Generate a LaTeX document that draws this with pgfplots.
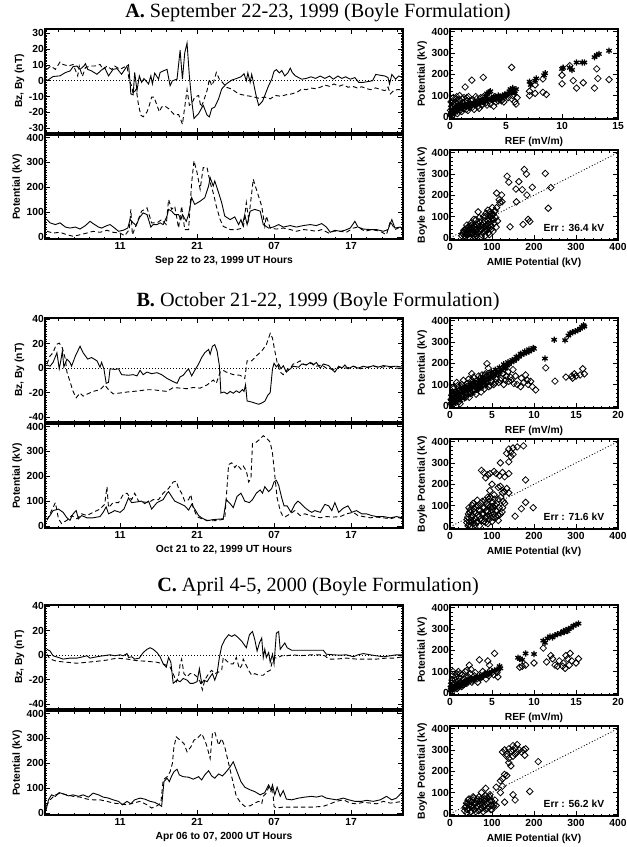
\documentclass[border=0pt]{standalone}
\usepackage{pgfplots}
\pgfplotsset{compat=1.18}
\usepackage{fontspec}
\setmainfont{Liberation Serif}
\newfontfamily\arialfam{Liberation Sans}
\newcommand{\axfont}{\arialfam\bfseries\fontsize{10.3}{11}\selectfont}
\newcommand{\titfont}{\fontsize{20.2}{22}\selectfont}

\pgfplotsset{
  base/.style={scale only axis, anchor=north west,
    axis line style={line width=1.1pt},
    every tick/.style={black, line width=0.6pt},
    tick align=inside, xtick pos=both, ytick pos=both,
    major tick length=5pt, minor tick length=2.5pt,
    tick label style={font=\axfont},
    yticklabel style={inner sep=1pt},
    label style={font=\axfont},
    /pgf/number format/assume math mode=true,
    scaled ticks=false},
  lft/.style={base, width=358pt, height=104pt, xmin=1.25, xmax=47.75,
    xtick={11,21,31,41}, xticklabels={11,21,07,17}, minor xtick={1,3,...,47}},
  bz/.style={lft, ymin=-44, ymax=41, ytick={-40,-20,0,20,40}, minor ytick={-44,-42,...,40},
    xticklabels={}, ylabel={Bz, By (nT)}},
  pot/.style={lft, ymin=-8, ymax=410, ytick={0,100,...,400}, minor ytick={0,10,...,400},
    ylabel={Potential (kV)}},
  ref/.style={base, width=168pt, height=90pt, xmin=0, ymin=-10, ymax=412,
    ytick={0,100,...,400}, minor ytick={0,20,...,400}, minor xtick={0,1,...,20},
    xlabel={REF (mV/m)}, ylabel={Potential (kV)}},
  cmp/.style={base, width=168pt, height=90pt, xmin=0, xmax=400, ymin=-10, ymax=412,
    xtick={0,100,...,400}, ytick={0,100,...,400}, minor xtick={0,20,...,400}, minor ytick={0,20,...,400},
    xlabel={AMIE Potential (kV)}, ylabel={Boyle Potential (kV)}},
  sol/.style={black, line width=0.9pt, mark=none},
  das/.style={black, line width=0.9pt, mark=none, dash pattern=on 4.5pt off 3pt},
  zero/.style={black, line width=0.8pt, mark=none, dash pattern=on 1pt off 2pt},
  dia/.style={only marks, mark=square, mark size=2.3pt, mark options={rotate=45, line width=0.8pt, draw=black, solid}},
  ast/.style={only marks, mark=asterisk, mark size=3.1pt, mark options={line width=1.3pt, draw=black, solid}},
}

\begin{document}
\begin{tikzpicture}
\path[use as bounding box] (0pt,0pt) rectangle (627pt,-847pt);

% ================= A =================
\node[font=\titfont] at (318pt,-13pt) {\textbf{A.} September 22-23, 1999 (Boyle Formulation)};

\begin{axis}[bz, at={(45pt,-29pt)}, ymin=-33, ymax=32.7, ytick={-30,-20,...,30}, minor ytick={-33,-32,...,32}]
\addplot[zero] coordinates {(0,0)(50,0)};
\addplot[sol] coordinates {(1.5,0)(2.3,2.7)(3.2,3.1)(3.9,5.2)(4.5,6.2)(4.9,8.9)(5.4,9.3)(5.8,7.2)(6.3,9.3)(6.5,10.8)(6.8,7.2)(7.3,6.2)(8.0,4.1)(8.6,6.8)(9.0,8.3)(9.5,3.1)(10.1,7.2)(10.6,7.7)(11.2,4.1)(11.9,9.3)(12.1,10.1)(12.3,-1)(12.4,-8.3)(12.7,-8.9)(12.9,5.2)(13.2,-6.2)(13.5,3.1)(13.8,-1)(14.1,1.4)(14.7,-2)(15.0,3.1)(15.2,-2)(15.5,4.8)(16.0,1)(16.2,5.2)(16.6,6.2)(17.1,7.2)(17.5,-3.1)(17.8,0)(18.4,1)(18.8,19.3)(19.1,1)(19.4,17.6)(19.7,23.8)(20.0,3.1)(20.3,-12.4)(20.6,-23.8)(21.2,-20.7)(21.8,-15.5)(22.3,-21.7)(22.6,-22.8)(22.9,-17.6)(23.3,-16.6)(23.8,-11.4)(24.2,-5.2)(24.8,-2)(25.5,0.4)(26.1,1.4)(26.7,2.5)(27.1,4.5)(27.4,0)(27.6,5)(27.9,-1)(28.1,4)(28.4,-3)(28.7,-10)(29.0,-15.5)(29.5,-13)(29.9,-8)(30.3,-3)(30.7,1)(31.0,6)(31.3,7)(31.7,5)(32.0,6.5)(32.4,3)(32.8,5)(33.1,8)(33.4,5)(33.8,3)(34.2,2)(34.6,1)(35.2,1.5)(35.8,2.5)(36.4,1.5)(37.0,3)(37.6,1.5)(38.2,3)(38.7,1)(39.3,3)(39.8,1.5)(40.3,2.5)(40.9,1)(41.5,2)(42.0,-1)(42.6,-1)(43.2,-0.5)(43.8,0)(44.2,4)(44.8,3.5)(45.4,3)(45.8,2)(46.0,-2)(46.3,4)(46.8,1)(47.2,3)(47.7,2)};
\addplot[das] coordinates {(1.5,7.2)(2.0,9.3)(2.6,7.2)(3.2,11.8)(3.6,10.3)(4.3,9.3)(4.9,10.3)(5.5,3.1)(5.7,9.3)(6.1,2.7)(6.5,8.3)(7.1,9.3)(7.7,9.3)(8.4,10.3)(8.8,7.2)(9.3,9.3)(9.9,7.2)(10.3,9.3)(11.0,7.2)(11.4,8.3)(11.9,9.3)(12.2,0)(12.5,-3.1)(12.7,-8.3)(13.1,-5.2)(13.4,-15.5)(13.7,-21.7)(14.0,-22.8)(14.5,-19.7)(14.8,-15.5)(15.1,-10.3)(15.4,-10.3)(15.8,-15.5)(16.1,-19.7)(16.4,-16.6)(16.8,-15.9)(17.3,-17.6)(17.7,-19.7)(18.1,-21.7)(18.6,-21.3)(18.9,-24.8)(19.1,-27.5)(19.4,-16.6)(19.7,-5.6)(20.0,-15.5)(20.3,-14.5)(20.7,-10.3)(21.2,-9.3)(21.5,-16.6)(21.8,-13.5)(22.3,-6.2)(22.6,1)(22.9,-3.1)(23.2,0)(23.5,5.2)(23.9,1)(24.3,-1)(24.8,-4.1)(25.5,-5.2)(26.4,-8.3)(27.3,-9.3)(28.2,-10)(29.0,-11)(29.8,-10.3)(30.5,-11.4)(31.2,-9.3)(31.9,-9.8)(32.6,-8.8)(33.3,-8.3)(34.0,-7.2)(34.6,-5.2)(35.2,-5.6)(35.8,-4.6)(36.4,-5)(37.0,-4.1)(37.6,-2.7)(38.2,-3.5)(38.8,-2)(39.4,-3.5)(40.0,-2.5)(40.6,-4.1)(41.2,-3.5)(41.8,-4.5)(42.4,-3.8)(43.0,-5)(43.6,-5.6)(44.2,-4.5)(44.8,-5.5)(45.4,-6.2)(45.8,-4)(46.1,-8.3)(46.6,-6)(47.2,-5.5)(47.7,-6.2)};
\end{axis}

\begin{axis}[pot, at={(45pt,-135pt)}, xlabel={Sep 22 to 23, 1999 UT Hours}]
\addplot[sol] coordinates {(1.5,70)(1.9,57)(2.6,50)(3.2,57)(3.9,40)(4.5,36)(5.2,40)(5.8,32)(6.5,46)(7.1,63)(7.5,54)(8.2,40)(8.6,36)(9.3,46)(9.7,50)(10.3,36)(10.8,23)(11.4,27)(12.0,36)(12.3,70)(12.7,57)(13.1,46)(13.5,77)(14.0,97)(14.5,90)(15.0,40)(15.3,50)(15.8,50)(16.2,57)(16.6,50)(17.1,84)(17.3,111)(17.7,104)(18.1,90)(18.6,90)(18.9,70)(19.1,90)(19.6,63)(19.9,90)(20.3,158)(20.7,131)(21.4,144)(22.0,158)(22.5,205)(22.7,239)(23.1,205)(23.3,225)(23.8,178)(24.2,138)(24.6,84)(25.3,70)(25.9,81)(26.4,50)(26.7,70)(26.9,50)(27.2,90)(27.5,50)(27.9,104)(28.5,111)(29.2,104)(29.6,50)(30.3,36)(30.9,40)(31.6,50)(32.2,40)(33.1,46)(33.9,40)(34.8,46)(35.7,50)(36.5,46)(37.2,54)(37.8,40)(38.3,19)(38.9,27)(39.6,23)(40.2,27)(40.9,36)(41.5,63)(41.9,40)(42.6,32)(43.5,30)(44.3,30)(45.2,23)(45.8,30)(46.3,70)(46.7,36)(47.4,40)(47.7,30)};
\addplot[das] coordinates {(1.5,23)(2.3,16)(3.2,19)(4.1,9)(4.9,3)(5.8,9)(6.7,16)(7.5,23)(8.4,19)(9.3,27)(10.1,19)(11.0,16)(11.6,5)(12.2,30)(12.4,111)(12.6,9)(13.2,57)(13.8,104)(14.5,117)(15.1,57)(15.8,57)(16.4,70)(17.0,50)(17.3,151)(17.7,111)(18.1,124)(18.6,36)(19.0,124)(19.4,30)(19.9,30)(20.3,219)(20.6,306)(21.0,259)(21.4,192)(21.8,279)(22.3,279)(22.7,219)(23.1,178)(23.5,124)(24.0,70)(24.4,43)(25.3,30)(26.1,30)(27.0,36)(27.4,138)(27.7,70)(28.0,151)(28.3,232)(28.7,192)(29.4,124)(29.8,43)(30.0,84)(30.5,36)(31.3,32)(32.2,36)(33.1,30)(33.9,23)(34.8,30)(35.7,27)(36.5,23)(37.2,30)(38.1,16)(38.7,23)(39.6,23)(40.4,19)(41.3,36)(41.9,40)(42.8,23)(43.7,30)(44.8,23)(45.6,9)(46.1,63)(46.7,30)(47.6,43)};
\end{axis}

\begin{axis}[ref, at={(450pt,-29pt)}, xmax=15, xtick={0,5,10,15}]
\addplot[ast] coordinates {(0.1,15)(0.2,25)(0.3,20)(0.4,35)(0.5,30)(0.6,40)(0.7,25)(0.8,45)(0.9,35)(1.0,40)(1.1,50)(1.2,45)(1.4,55)(1.5,45)(1.6,50)(1.8,55)(2.0,60)(2.2,55)(2.4,65)(2.6,70)(2.8,75)(3.0,70)(3.2,95)(3.3,110)(3.5,115)(3.6,120)(3.8,80)(4.0,90)(4.2,85)(4.4,95)(4.6,90)(4.8,95)(5.0,100)(5.2,110)(5.3,120)(5.4,130)(5.5,115)(5.6,135)(5.7,125)(5.8,110)(5.9,130)(7.1,165)(7.2,150)(7.6,170)(7.7,180)(8.4,195)(8.5,205)(10.0,225)(10.1,230)(10.7,230)(10.9,220)(11.3,255)(11.8,255)(12.0,255)(12.9,280)(13.1,290)(13.3,295)(14.2,310)(0.05,10)(0.15,20)(0.25,30)(0.35,25)(0.45,40)(0.55,35)(0.65,45)(0.75,40)(0.85,50)(0.95,45)(1.3,50)(1.7,60)(1.9,55)(2.1,65)(2.3,60)(2.5,70)(2.7,65)(2.9,80)(3.1,75)(3.4,85)(3.7,80)(3.9,95)(4.1,85)(4.3,100)(4.5,90)(4.7,100)(4.9,105)};
\addplot[dia] coordinates {(0.1,10)(0.2,40)(0.3,60)(0.3,90)(0.4,20)(0.5,70)(0.6,95)(0.7,50)(0.8,80)(0.9,30)(1.0,60)(1.1,85)(1.2,40)(1.3,70)(1.5,90)(1.6,30)(1.7,60)(1.9,75)(2.0,45)(2.2,65)(2.4,85)(2.5,50)(2.7,70)(2.9,60)(3.1,80)(3.3,55)(3.5,75)(4.0,95)(4.3,75)(4.6,80)(5.0,100)(5.5,85)(6.0,90)(5.8,70)(1.35,140)(1.95,172)(2.97,185)(5.5,232)(3.9,50)(4.6,75)(5.9,60)(7.1,100)(7.1,120)(7.6,110)(7.6,150)(8.3,115)(8.6,105)(8.3,178)(10.0,155)(10.0,195)(10.7,240)(11.0,170)(11.3,135)(11.9,160)(12.9,135)(13.1,225)(13.2,180)(14.2,175)(0.15,50)(0.25,75)(0.35,30)(0.45,55)(0.55,85)(0.65,15)(0.75,65)(0.85,100)(0.95,50)(1.05,25)(1.15,65)(1.25,90)(1.35,55)(1.45,35)(1.55,75)(1.65,95)(1.75,45)(1.85,60)(2.05,80)(2.15,35)(2.3,95)(2.45,70)(2.6,40)(2.75,90)(2.85,55)(3.0,95)(3.2,65)(3.4,90)(3.6,60)(3.8,85)(4.1,70)(4.4,90)(4.8,70)(5.2,90)(5.6,100)(0.05,30)(0.1,70)(0.2,5)};
\end{axis}

\begin{axis}[cmp, at={(450pt,-150pt)}]
\addplot[zero] coordinates {(0,0)(400,400)};
\addplot[dia] coordinates {(30,20)(33,35)(35,10)(38,25)(40,45)(42,15)(45,30)(47,55)(50,20)(52,40)(55,10)(57,60)(58,30)(60,50)(62,20)(65,40)(68,65)(70,30)(72,55)(75,15)(78,45)(80,70)(82,30)(85,55)(88,40)(90,80)(92,25)(95,60)(98,40)(100,90)(102,30)(105,70)(45,5)(60,5)(40,60)(50,70)(62,85)(70,95)(85,100)(95,110)(110,50)(136,289)(140,261)(164,264)(177,321)(182,299)(227,302)(157,229)(172,226)(196,237)(240,236)(183,201)(158,169)(111,210)(123,201)(117,179)(124,169)(234,139)(143,52)(174,63)(186,87)(190,77)(113,79)(107,126)(103,111)(95,122)(86,115)(67,122)(57,87)(111,142)(101,142)(119,166)(80,100)(90,130)(97,100)(28,10)(32,25)(36,40)(39,15)(41,30)(43,50)(46,20)(48,40)(51,60)(53,25)(56,45)(59,15)(61,35)(63,60)(66,25)(69,50)(71,75)(74,40)(76,60)(79,25)(81,50)(83,80)(86,35)(89,65)(91,50)(93,90)(96,75)(99,55)(101,110)(104,85)(106,125)(109,95)(44,40)(54,35)(64,10)(74,5)(84,10)(94,15)(37,5)};
\node[font=\axfont] at (axis cs:295,45) {Err : 36.4 kV};
\end{axis}

% ================= B =================
\node[font=\titfont] at (318pt,-302pt) {\textbf{B.} October 21-22, 1999 (Boyle Formulation)};

\begin{axis}[bz, at={(45pt,-318pt)}]
\addplot[zero] coordinates {(0,0)(50,0)};
\addplot[sol] coordinates {(1.5,2.6)(1.9,1.6)(2.3,4.7)(2.8,12.6)(3.1,-0.5)(3.3,6)(3.5,14)(3.7,1)(4.1,7.4)(4.5,4.7)(4.7,1.6)(5.2,10)(5.8,17.9)(6.2,12.6)(6.8,7.4)(7.3,8.7)(8.0,6)(8.4,0.8)(8.6,4.7)(8.9,-0.5)(9.2,-12.4)(9.5,-11.6)(9.7,-0.5)(10.3,-1)(10.8,-0.5)(11.2,-5.3)(12.1,-5.8)(12.7,-5.3)(13.2,-6.3)(13.6,-1.8)(14.0,-5.3)(14.5,-3.2)(15.1,-4.5)(15.8,-3.7)(16.4,-5.3)(17.1,-8.4)(17.9,-11)(18.4,-12.4)(18.8,-7.1)(19.2,-5.8)(19.6,-2.6)(19.9,-0.5)(20.3,-6.3)(20.7,-1.8)(21.2,3.4)(21.6,8.7)(22.0,12.6)(22.5,15.3)(22.7,11.3)(23.0,17.9)(23.3,19.2)(23.6,14)(23.9,2.1)(24.1,-20.3)(24.5,-19.5)(24.9,-21)(25.3,-19)(25.7,-20.5)(26.1,-18.5)(26.5,-20)(26.9,-17.5)(27.1,-19)(27.3,-13.5)(27.5,-26.8)(28.0,-27.5)(28.5,-28.5)(29.0,-29.5)(29.4,-28.5)(29.8,-27)(30.2,-22)(30.5,-20)(30.8,-0.5)(31.0,4)(31.3,1)(31.6,3.4)(31.9,-0.5)(32.2,2)(32.6,-3.2)(33.1,-0.5)(33.5,1.6)(34.2,0.8)(34.6,3.4)(35.2,2.6)(35.7,4.7)(36.1,2.6)(36.5,4.7)(37.0,0)(37.4,3.4)(38.1,2.1)(38.5,-1)(38.9,-3.2)(39.4,1.6)(39.8,0)(40.2,2.6)(40.6,-0.5)(41.3,1.6)(41.9,0)(42.6,1.6)(43.2,0.5)(43.9,2.1)(44.5,0.8)(45.2,2.1)(46.1,1.3)(46.9,1.6)(47.7,0.8)};
\addplot[das] coordinates {(1.5,3.4)(1.9,10)(2.3,12.6)(2.7,19.2)(3.1,20.5)(3.5,16.6)(3.9,7.4)(4.1,-3.2)(4.5,-11)(4.9,-19)(5.3,-24.2)(5.8,-20.3)(6.2,-22.9)(6.8,-21)(7.5,-19)(8.4,-17.6)(9.0,-13.7)(9.5,-17.6)(10.1,-21)(11.0,-20.3)(11.9,-19.5)(12.7,-19)(13.6,-18.4)(14.5,-17.6)(15.3,-17.6)(16.2,-18.4)(17.1,-19)(17.9,-15.8)(18.8,-16.3)(19.7,-16.8)(20.5,-15.8)(21.4,-16.3)(22.3,-13.7)(23.1,-9.7)(23.5,-12.4)(24.0,-3.2)(24.4,-1.8)(24.8,-3.2)(25.7,-5.3)(26.6,-5.8)(27.2,-8.4)(27.5,6)(28.1,6)(28.7,10)(29.4,14)(30.0,19.2)(30.5,28.4)(30.8,24.5)(31.1,14)(31.4,4.7)(31.8,-3.2)(32.2,-5.3)(32.6,-1.8)(33.1,0)(33.5,3.4)(33.9,4.2)(34.4,6)(34.8,3.4)(35.2,2.6)(35.9,4.2)(36.5,1.6)(37.2,2.6)(37.8,0)(38.7,-1)(39.6,0.8)(40.4,0)(41.3,1.6)(42.2,-0.5)(43.0,0.8)(43.9,1.6)(44.8,0.5)(45.6,1.6)(46.5,0)(47.7,0)};
\end{axis}

\begin{axis}[pot, at={(45pt,-424pt)}, xlabel={Oct 21 to 22, 1999 UT Hours}]
\addplot[sol] coordinates {(1.5,26)(1.9,42)(2.3,62)(3.0,68)(3.6,55)(4.1,33)(4.5,23)(4.9,49)(5.3,62)(5.6,29)(6.0,42)(6.7,33)(7.5,33)(8.4,38)(8.8,55)(9.2,77)(9.5,49)(9.9,55)(10.3,62)(11.0,55)(11.5,68)(12.1,113)(12.5,94)(13.2,97)(13.8,100)(14.2,90)(14.7,100)(15.1,68)(15.8,94)(16.6,106)(17.1,132)(17.3,138)(17.7,119)(18.1,100)(18.8,90)(19.4,81)(19.9,64)(20.3,87)(20.7,68)(21.2,42)(21.6,33)(22.3,21)(23.1,26)(24.4,29)(24.8,106)(25.3,90)(25.7,74)(26.2,119)(26.7,132)(27.2,100)(27.8,94)(28.2,106)(28.7,132)(29.2,145)(29.5,132)(29.8,158)(30.3,138)(30.7,151)(31.0,177)(31.3,184)(31.6,164)(32.0,113)(32.3,81)(32.7,81)(33.2,55)(33.7,87)(34.1,100)(34.5,90)(35.0,74)(35.5,62)(35.9,55)(36.3,62)(37.0,55)(37.6,87)(38.1,81)(38.5,62)(38.9,94)(39.4,55)(40.0,72)(40.6,81)(41.1,55)(41.7,62)(42.4,49)(43.0,49)(43.7,42)(44.3,38)(45.2,38)(46.1,33)(46.9,38)(47.7,33)};
\addplot[das] coordinates {(1.5,23)(2.1,62)(2.6,94)(3.0,29)(3.4,10)(4.1,23)(4.7,42)(5.4,29)(6.0,49)(6.7,42)(7.5,55)(8.4,68)(9.0,87)(9.3,158)(9.5,74)(10.1,94)(10.8,94)(11.4,126)(11.9,132)(12.5,106)(12.9,132)(13.4,100)(14.0,97)(14.7,94)(15.3,106)(16.0,106)(16.6,132)(17.3,151)(17.9,177)(18.3,180)(18.6,151)(19.0,132)(19.4,100)(19.9,106)(20.2,126)(20.5,74)(21.0,38)(21.6,29)(22.3,23)(23.1,21)(23.8,23)(24.6,29)(25.1,247)(25.5,254)(25.9,235)(26.2,247)(26.7,228)(27.0,241)(27.4,222)(27.7,177)(28.0,190)(28.2,331)(28.7,337)(29.2,350)(29.6,363)(30.0,354)(30.5,337)(30.8,292)(31.1,203)(31.4,113)(31.8,62)(32.1,42)(32.4,36)(33.1,49)(33.7,62)(34.4,42)(35.0,49)(35.7,42)(36.3,38)(37.0,33)(37.8,38)(38.7,36)(39.6,38)(40.4,49)(41.3,55)(41.9,42)(42.6,38)(43.5,33)(44.3,36)(45.2,33)(46.1,29)(46.9,36)(47.7,29)};
\end{axis}

\begin{axis}[ref, at={(450pt,-318pt)}, xmax=20, xtick={0,5,...,20}]
\addplot[ast] coordinates {(0.1,20)(0.2,35)(0.3,25)(0.5,45)(0.6,30)(0.8,50)(1.0,55)(1.1,40)(1.3,60)(1.5,70)(1.6,55)(1.8,75)(2.0,80)(2.2,70)(2.4,90)(2.6,85)(2.8,95)(3.0,100)(3.2,90)(3.4,110)(3.6,105)(3.8,115)(4.0,120)(4.2,110)(4.4,130)(4.6,125)(4.8,140)(5.0,135)(5.2,150)(5.4,145)(5.6,160)(5.8,155)(6.0,170)(6.2,165)(6.4,180)(6.6,175)(6.8,190)(7.0,195)(7.3,205)(7.6,210)(7.9,220)(8.2,230)(8.5,240)(8.8,245)(9.1,250)(9.4,255)(9.7,262)(10.0,268)(11.3,222)(12.4,310)(13.7,308)(14.1,330)(14.3,340)(14.6,345)(14.9,350)(15.2,355)(15.5,362)(15.7,370)(15.9,378)(16.0,372)(0.4,60)(0.9,70)(1.4,80)(1.9,90)(2.4,100)(2.9,110)(3.4,125)(3.9,135)(4.4,150)(4.9,160)(5.4,170)(5.9,180)(6.4,195)(6.9,205)(7.4,215)(7.9,230)(8.4,245)(8.9,255)(9.4,265)(9.9,272)(0.2,5)(0.7,15)(1.2,25)(1.7,35)(2.2,50)(2.7,60)(3.2,75)(3.7,85)(4.2,95)};
\addplot[dia] coordinates {(0.1,10)(0.2,50)(0.4,80)(0.5,20)(0.7,65)(0.9,95)(1.0,35)(1.2,75)(1.4,100)(1.5,50)(1.7,85)(1.9,60)(2.1,105)(2.3,40)(2.5,90)(2.7,70)(2.9,110)(3.1,55)(3.3,85)(3.5,100)(3.7,65)(3.9,120)(4.1,80)(4.3,105)(4.6,90)(4.9,115)(5.2,100)(5.5,125)(5.8,110)(6.1,130)(6.4,100)(6.7,140)(7.0,115)(7.3,120)(7.6,105)(8.0,100)(4.4,198)(4.55,177)(2.6,151)(2.6,120)(8.5,130)(8.8,110)(9.0,145)(9.3,100)(9.6,115)(9.8,90)(10.2,75)(8.4,90)(9.2,120)(11.4,178)(12.5,116)(13.8,135)(14.5,140)(14.8,150)(15.0,140)(15.5,145)(15.8,174)(16.0,150)(14.6,130)(0.15,30)(0.3,60)(0.45,90)(0.6,45)(0.8,110)(1.1,20)(1.3,90)(1.6,120)(1.8,40)(2.0,90)(2.2,125)(2.4,60)(2.6,100)(2.8,135)(3.0,75)(3.2,120)(3.4,140)(3.6,90)(3.8,145)(4.0,100)(4.2,150)(4.5,120)(4.8,95)(5.1,140)(5.4,110)(5.7,150)(6.0,120)(6.3,150)(6.6,120)(6.9,160)(7.2,135)(7.5,170)(7.8,140)(0.3,5)(0.7,30)(1.2,10)};
\end{axis}

\begin{axis}[cmp, at={(450pt,-439pt)}]
\addplot[zero] coordinates {(0,0)(400,400)};
\addplot[dia] coordinates {(40,20)(42,45)(45,10)(47,70)(50,30)(52,55)(55,15)(57,85)(60,40)(62,65)(65,25)(67,100)(70,50)(72,75)(75,30)(77,120)(80,60)(82,90)(85,40)(87,110)(90,70)(92,130)(95,50)(97,95)(100,80)(102,115)(105,60)(108,100)(110,45)(112,75)(115,130)(120,60)(125,90)(130,110)(45,90)(55,110)(65,125)(50,5)(70,5)(85,20)(100,25)(75,265)(80,255)(85,230)(90,245)(95,250)(100,200)(105,260)(110,250)(115,185)(118,240)(120,300)(125,255)(130,235)(135,345)(140,305)(145,350)(140,365)(150,370)(160,375)(145,330)(150,340)(175,380)(180,220)(180,115)(170,85)(198,90)(155,50)(130,165)(140,250)(135,180)(125,160)(105,150)(95,170)(90,140)(140,160)(120,190)(41,35)(44,60)(46,25)(48,80)(51,45)(53,100)(56,30)(58,70)(61,95)(63,20)(66,55)(68,80)(71,35)(73,110)(76,60)(78,90)(81,25)(83,125)(86,75)(88,50)(91,100)(93,35)(96,140)(98,65)(101,95)(103,45)(106,130)(109,75)(111,110)(114,55)(117,90)(121,140)(124,70)(127,120)(60,10)(90,15)(115,30)(43,5)};
\node[font=\axfont] at (axis cs:295,45) {Err : 71.6 kV};
\end{axis}

% ================= C =================
\node[font=\titfont] at (318pt,-587pt) {\textbf{C.} April 4-5, 2000 (Boyle Formulation)};

\begin{axis}[bz, at={(45pt,-605pt)}]
\addplot[zero] coordinates {(0,0)(50,0)};
\addplot[sol] coordinates {(1.5,4.8)(1.9,3.4)(2.3,-0.5)(3.0,-1.9)(3.6,-3.2)(4.5,-2.4)(5.4,-2.4)(6.2,-1.3)(6.7,-0.5)(7.1,-2.4)(8.0,-1.3)(8.8,-0.5)(9.7,0.3)(10.3,-0.5)(11.0,0.3)(11.4,-0.5)(11.9,1.3)(12.1,-1.9)(12.5,-1.3)(12.9,-3.2)(13.5,-2.4)(14.0,2.1)(14.5,4.8)(14.9,6.1)(15.3,4.8)(15.8,2.1)(16.2,-1.3)(16.6,-7.1)(17.0,-9.8)(17.3,-1.9)(17.6,-5.8)(17.9,-23)(18.4,-20.4)(18.8,-21.7)(19.2,-19)(19.7,-20.4)(20.1,-23)(20.5,-23)(21.0,-21.7)(21.3,-11.1)(21.6,-23)(21.9,-20.4)(22.3,-21.7)(22.7,-17.7)(23.0,-15.1)(23.3,-20.4)(23.6,-15.1)(23.9,-1.9)(24.2,7.4)(24.6,12.7)(25.1,16.7)(25.5,15.3)(25.9,16.7)(26.4,14)(26.8,11.4)(27.4,6.1)(27.8,16.7)(28.2,19.3)(28.5,12.7)(28.8,3.4)(29.1,10)(29.4,14)(29.6,-1.9)(29.8,4.8)(30.0,-1.9)(30.3,2.1)(30.5,-5.8)(30.8,0.8)(31.0,-7.1)(31.3,18)(31.6,19.3)(31.8,4.8)(32.1,7.4)(32.4,10)(32.7,6.1)(33.3,4)(34.4,4)(35.7,4)(36.5,4)(37.4,4)(37.8,0.8)(38.7,0.3)(39.6,0)(40.4,0.3)(41.3,-1.3)(41.9,0.3)(42.6,1.3)(43.5,0.3)(44.3,-0.5)(45.2,-1.3)(46.1,-0.5)(46.9,0.3)(47.7,0.3)};
\addplot[das] coordinates {(1.5,0.8)(1.9,-3.2)(2.8,-5)(4.1,-5.8)(5.4,-6.6)(6.7,-5.8)(8.0,-5)(9.3,-4)(10.6,-2.4)(11.9,-3.2)(13.2,-4.5)(14.5,-5)(15.8,-5.8)(16.6,-7.1)(17.5,-9.8)(17.9,-15.1)(18.3,-21.7)(18.6,-17.7)(18.8,-7.1)(19.0,-3.2)(19.3,-15.1)(19.7,-17.7)(20.1,-15.1)(20.5,-15.1)(21.0,-17.7)(21.4,-21.7)(21.7,-28.3)(22.0,-20.4)(22.5,-15.1)(22.9,-12.4)(23.3,-15.1)(23.8,-13.8)(24.2,-12.4)(24.4,-1.9)(24.8,-4.5)(25.3,-7.1)(25.7,-7.1)(26.1,-1.9)(26.5,-11.1)(26.8,-8.5)(27.0,-3.2)(27.4,-8.5)(27.7,-12.4)(28.1,-16.4)(28.5,-15.1)(29.0,-16.4)(29.6,-16.4)(30.0,-13.8)(30.5,-12.4)(30.8,-4.5)(31.0,-1.9)(31.3,-2.4)(32.0,-0.5)(32.6,-0.5)(33.5,0.3)(34.4,-0.5)(35.7,0.3)(37.0,0.3)(37.6,-0.5)(38.1,-3.2)(39.1,-3.2)(40.4,-2.4)(41.7,-3.2)(43.0,-3.2)(44.3,-3.2)(45.6,-2.4)(46.7,-2.4)(47.7,-1.3)};
\end{axis}

\begin{axis}[pot, at={(45pt,-711pt)}, xlabel={Apr 06 to 07, 2000 UT Hours}]
\addplot[sol] coordinates {(1.4,13)(1.7,53)(2.1,73)(2.6,67)(3.1,82)(3.6,77)(4.3,69)(4.9,73)(5.6,67)(6.2,73)(6.9,64)(7.5,80)(8.2,73)(8.8,64)(9.5,60)(10.1,53)(10.8,47)(11.3,33)(11.9,47)(12.4,37)(12.9,53)(13.6,60)(14.2,56)(14.9,47)(15.5,43)(16.1,33)(16.4,27)(16.7,126)(17.1,140)(17.4,126)(17.7,149)(18.0,166)(18.4,176)(18.7,153)(19.2,146)(19.9,144)(20.5,136)(21.2,146)(21.6,133)(22.0,153)(22.5,170)(22.9,149)(23.3,140)(23.8,157)(24.3,149)(24.8,166)(25.3,186)(25.7,206)(26.2,166)(26.7,126)(27.2,104)(27.9,93)(28.5,86)(29.2,73)(29.8,82)(30.3,113)(30.6,93)(30.8,113)(31.1,73)(31.4,104)(31.8,67)(32.2,90)(32.6,56)(33.3,53)(34.2,60)(35.0,64)(35.9,67)(36.5,64)(37.2,69)(37.8,60)(38.5,56)(39.1,53)(40.0,60)(40.7,53)(41.5,47)(42.4,47)(43.0,51)(43.9,47)(44.8,53)(45.6,67)(46.3,53)(46.9,60)(47.7,86)};
\addplot[das] coordinates {(1.4,27)(1.9,53)(2.6,73)(3.2,80)(4.1,73)(4.9,67)(5.8,64)(6.7,56)(7.5,53)(8.4,53)(9.3,47)(10.1,40)(11.0,37)(11.9,33)(12.7,40)(13.6,47)(14.5,33)(15.1,20)(15.8,29)(16.3,40)(16.6,133)(17.1,146)(17.5,166)(17.8,200)(18.0,266)(18.3,306)(18.8,293)(19.3,279)(19.7,246)(20.2,266)(20.6,293)(21.0,299)(21.6,319)(22.0,293)(22.3,266)(22.7,219)(23.0,319)(23.3,326)(23.8,273)(24.2,299)(24.6,266)(25.2,186)(25.6,133)(26.1,67)(26.7,40)(27.2,27)(27.9,29)(28.5,40)(29.0,47)(29.4,37)(29.6,67)(30.0,80)(30.3,104)(30.6,86)(30.8,104)(31.0,27)(31.3,20)(32.2,24)(33.5,24)(34.8,24)(36.1,24)(37.4,27)(38.3,37)(39.1,47)(40.0,53)(40.9,40)(41.7,37)(42.6,43)(43.5,40)(44.3,37)(45.2,47)(46.1,40)(46.9,43)(47.7,47)};
\end{axis}

\begin{axis}[ref, at={(450pt,-605pt)}, xmax=20, xtick={0,5,...,20}]
\addplot[ast] coordinates {(0.1,15)(0.2,25)(0.4,20)(0.5,35)(0.7,30)(0.9,40)(1.0,30)(1.2,45)(1.4,40)(1.6,50)(1.8,45)(2.0,55)(2.3,60)(2.6,65)(2.9,70)(3.2,72)(3.5,78)(3.8,80)(4.1,85)(4.4,88)(4.7,92)(5.0,100)(5.3,105)(5.6,110)(5.9,125)(6.0,115)(8.1,165)(8.3,160)(8.6,155)(9.0,185)(10.0,182)(11.1,245)(11.3,235)(11.6,255)(11.9,265)(12.2,260)(12.5,270)(12.8,275)(13.2,280)(13.5,290)(13.8,295)(14.1,300)(14.4,305)(14.7,315)(15.0,320)(15.3,325)(13.6,285)(14.0,290)(0.3,10)(0.6,20)(0.8,25)(1.1,35)(1.3,30)(1.5,40)(1.7,45)(1.9,50)(2.2,50)(2.5,60)(2.8,62)(3.1,68)(3.4,70)(3.7,75)(4.0,82)(4.3,85)(4.6,90)};
\addplot[dia] coordinates {(0.1,10)(0.2,45)(0.3,80)(0.4,25)(0.6,60)(0.8,90)(0.9,35)(1.1,70)(1.3,50)(1.5,85)(1.7,40)(1.9,75)(2.1,60)(2.4,90)(2.6,50)(2.9,80)(3.2,65)(3.5,85)(3.8,75)(4.2,90)(4.6,80)(5.0,95)(1.0,100)(2.0,105)(2.3,130)(3.5,155)(4.5,150)(4.7,130)(5.3,185)(5.7,75)(5.5,100)(8.3,120)(8.6,125)(9.0,130)(10.0,140)(11.1,210)(11.5,145)(12.0,175)(12.2,160)(12.5,130)(13.0,150)(13.4,125)(13.5,140)(13.8,175)(14.0,160)(14.3,185)(14.5,150)(15.0,140)(15.3,160)(14.2,130)(13.7,115)(12.8,125)(0.15,30)(0.25,60)(0.35,100)(0.5,45)(0.7,75)(0.85,20)(1.0,55)(1.2,90)(1.4,30)(1.6,65)(1.8,100)(2.0,45)(2.2,75)(2.5,110)(2.7,60)(3.0,95)(3.3,50)(3.6,70)(3.9,100)(4.3,65)(4.8,105)(5.2,85)(5.6,95)};
\end{axis}

\begin{axis}[cmp, at={(450pt,-726pt)}]
\addplot[zero] coordinates {(0,0)(400,400)};
\addplot[dia] coordinates {(35,15)(38,35)(40,5)(42,50)(45,25)(48,60)(50,10)(52,40)(55,65)(58,20)(60,50)(62,30)(65,70)(68,15)(70,45)(72,60)(75,25)(78,55)(80,35)(82,70)(85,20)(88,50)(90,75)(92,30)(95,60)(98,40)(100,20)(105,45)(45,70)(55,80)(85,85)(125,290)(130,300)(135,280)(140,305)(145,295)(150,320)(155,310)(160,325)(165,300)(170,290)(175,300)(180,305)(150,270)(155,280)(140,240)(145,225)(160,290)(135,270)(140,260)(130,185)(135,180)(125,165)(120,155)(125,130)(110,125)(85,120)(75,100)(95,90)(120,100)(130,55)(150,90)(155,65)(190,105)(210,245)(150,300)(178,275)(36,30)(39,50)(41,20)(43,65)(46,40)(49,10)(51,55)(54,30)(56,75)(59,45)(61,10)(64,60)(66,35)(69,80)(71,20)(74,70)(76,45)(79,10)(81,60)(84,40)(86,70)(89,25)(91,55)(94,80)(97,20)(99,60)(103,35)(107,65)(110,40)};
\node[font=\axfont] at (axis cs:295,45) {Err : 56.2 kV};
\end{axis}
\end{tikzpicture}
\end{document}
